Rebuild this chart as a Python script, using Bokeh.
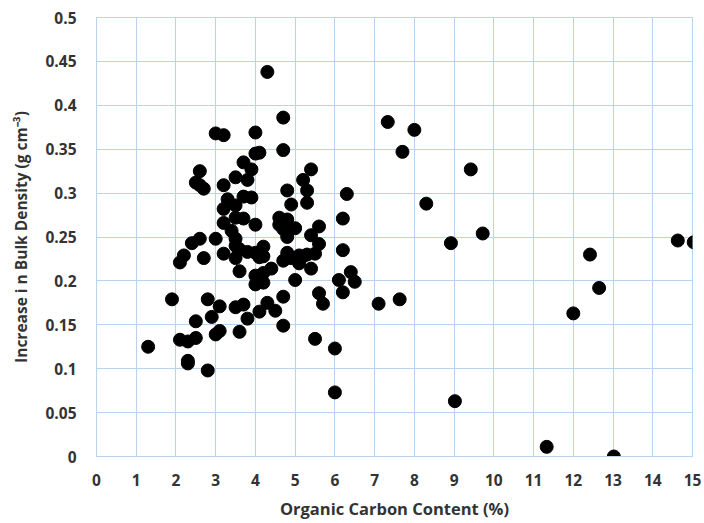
from bokeh.plotting import figure
from bokeh.models import FixedTicker, ColumnDataSource, Range1d
from bokeh.embed import file_html
from bokeh.resources import INLINE

organic_carbon = [
    1.3, 1.9, 2.1, 2.1, 2.2, 2.3, 2.3, 2.3, 2.4, 2.5, 2.5, 2.5, 2.6, 2.6, 2.6, 2.7, 2.7, 2.8, 2.8, 2.9,
    3.0, 3.0, 3.0, 3.1, 3.1, 3.2, 3.2, 3.2, 3.2, 3.2, 3.3, 3.4, 3.5, 3.5, 3.5, 3.5, 3.5, 3.5, 3.5,
    3.6, 3.6, 3.6, 3.7, 3.7, 3.7, 3.7, 3.8, 3.8, 3.8, 3.9, 3.9,
    4.0, 4.0, 4.0, 4.0, 4.0, 4.0, 4.1, 4.1, 4.1, 4.2, 4.2, 4.2, 4.2, 4.3, 4.3, 4.4, 4.5, 4.6, 4.6,
    4.7, 4.7, 4.7, 4.7, 4.7, 4.7, 4.8, 4.8, 4.8, 4.8, 4.9, 4.9, 5.0, 5.0, 5.1, 5.1, 5.2, 5.2,
    5.3, 5.3, 5.3, 5.4, 5.4, 5.4, 5.5, 5.5, 5.6, 5.6, 5.6, 5.7,
    6.0, 6.0, 6.1, 6.2, 6.2, 6.2, 6.3, 6.4, 6.5,
    7.1, 7.33, 7.63, 7.7, 8.0, 8.3, 8.92, 9.02, 9.42, 9.72,
    11.33, 12.0, 12.42, 12.65, 13.02, 14.63, 15.03,
]
bulk_density_increase = [
    0.125, 0.179, 0.221, 0.133, 0.229, 0.131, 0.109, 0.106, 0.243, 0.154, 0.135, 0.312, 0.325, 0.309, 0.248, 0.305, 0.226, 0.179, 0.098, 0.159,
    0.368, 0.248, 0.139, 0.171, 0.143, 0.366, 0.309, 0.282, 0.266, 0.231, 0.293, 0.257, 0.318, 0.286, 0.272, 0.248, 0.240, 0.226, 0.170,
    0.236, 0.211, 0.142, 0.335, 0.296, 0.271, 0.173, 0.315, 0.233, 0.157, 0.327, 0.295,
    0.369, 0.345, 0.264, 0.232, 0.206, 0.196, 0.346, 0.227, 0.165, 0.239, 0.228, 0.198, 0.209, 0.438, 0.175, 0.214, 0.166, 0.272, 0.264,
    0.386, 0.349, 0.259, 0.223, 0.182, 0.149, 0.303, 0.270, 0.250, 0.232, 0.287, 0.226, 0.260, 0.201, 0.229, 0.220, 0.315, 0.228,
    0.303, 0.289, 0.230, 0.327, 0.252, 0.214, 0.231, 0.134, 0.262, 0.242, 0.186, 0.174,
    0.123, 0.073, 0.201, 0.271, 0.235, 0.187, 0.299, 0.210, 0.199,
    0.174, 0.381, 0.179, 0.347, 0.372, 0.288, 0.243, 0.063, 0.327, 0.254,
    0.011, 0.163, 0.230, 0.192, 0.0, 0.246, 0.244,
]

x_ticks = list(range(0, 16))
x_tick_labels = [str(v) for v in x_ticks]
y_ticks = [0, 0.05, 0.1, 0.15, 0.2, 0.25, 0.3, 0.35, 0.4, 0.45, 0.5]
y_tick_labels = ["0", "0.05", "0.1", "0.15", "0.2", "0.25", "0.3", "0.35", "0.4", "0.45", "0.5"]

x_title = "Organic Carbon Content (%)"
y_title = "Increase i n Bulk Density (g cm\u207b\u00b3)"

src = ColumnDataSource(dict(x=organic_carbon, y=bulk_density_increase))

GRID = "#B8D3EE"
TEXT = "#333333"
FONT = "Open Sans"

p = figure(width=704, height=523, output_backend="svg", toolbar_location=None,
           x_range=Range1d(0, 15), y_range=Range1d(0, 0.5),
           min_border_left=96, min_border_right=12, min_border_top=17, min_border_bottom=67)

p.scatter("x", "y", source=src, size=13, fill_color="black", line_color="black")

p.xaxis.ticker = FixedTicker(ticks=x_ticks)
p.yaxis.ticker = FixedTicker(ticks=y_ticks)
p.xaxis.major_label_overrides = {t: l for t, l in zip(x_ticks, x_tick_labels)}
p.yaxis.major_label_overrides = {t: l for t, l in zip(y_ticks, y_tick_labels)}

for ax in (p.xaxis, p.yaxis):
    ax.axis_line_color = GRID
    ax.major_tick_line_color = None
    ax.minor_tick_line_color = None
    ax.major_label_text_font = FONT
    ax.major_label_text_font_style = "bold"
    ax.major_label_text_font_size = "15.5px"
    ax.major_label_text_color = TEXT
    ax.axis_label_text_font = FONT
    ax.axis_label_text_font_style = "bold"
    ax.axis_label_text_color = TEXT

p.xaxis.axis_label = x_title
p.yaxis.axis_label = y_title
p.xaxis.axis_label_text_font_size = "16.5px"
p.yaxis.axis_label_text_font_size = "15.5px"
p.xaxis.major_label_standoff = 11
p.yaxis.major_label_standoff = 14
p.xaxis.axis_label_standoff = 8
p.yaxis.axis_label_standoff = 10

p.xgrid.grid_line_color = GRID
p.ygrid.grid_line_color = GRID
p.outline_line_color = GRID
p.background_fill_color = "white"
p.border_fill_color = "white"

open("out.html", "w").write(file_html(p, INLINE))
